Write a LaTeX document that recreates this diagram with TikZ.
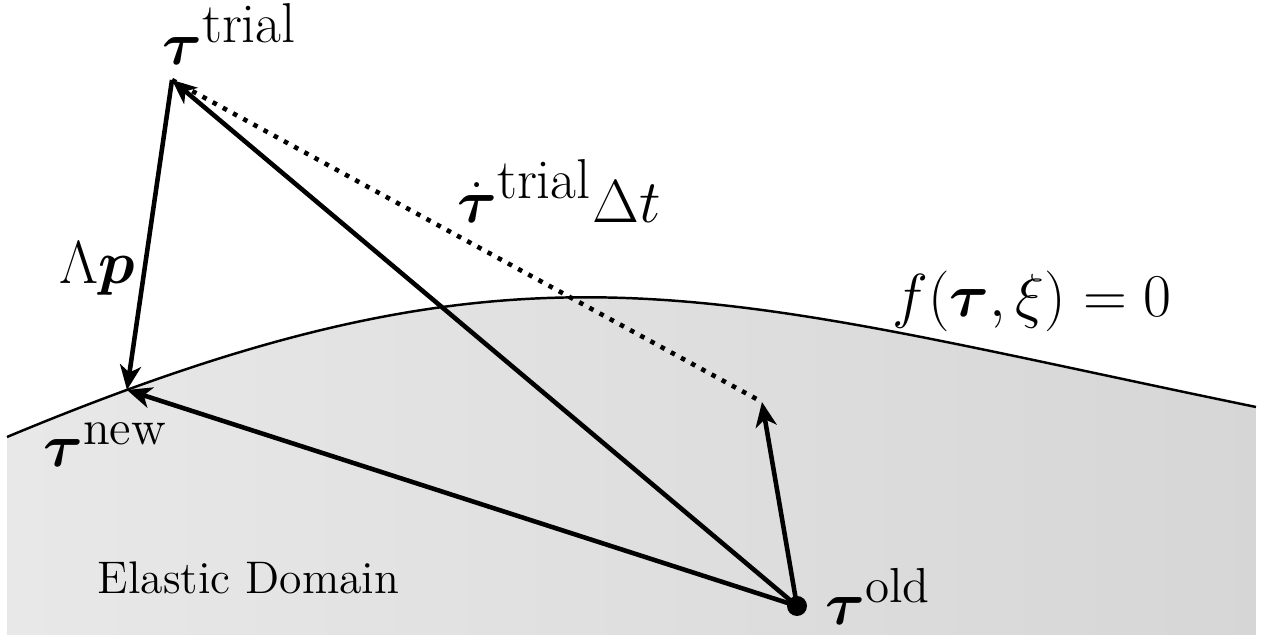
\documentclass[tikz,border=0pt]{standalone}
\usepackage{amsmath}
\usepackage{amssymb}
\usetikzlibrary{arrows.meta}

\newcommand{\suptext}[2]{\text{\fontsize{#1}{#1}\selectfont #2}}

\begin{document}
\begin{tikzpicture}[>={Stealth[length=7pt, width=6pt, inset=2pt]}, line width=1.3pt,
            every node/.style={inner sep=0pt, font=\fontsize{18}{22}\selectfont}]
            \useasboundingbox (0,0) rectangle (12.66,6.39);

            % elastic domain and yield surface
            \shade[left color=black!9, right color=black!16] (0.07,0.04) -- (0.07,2.02) .. controls (5.3,4.2) and (7.06,3.45) .. (12.56,2.32) -- (12.56,0.04) -- cycle;
            \draw[line width=0.7pt] (0.07,2.02) .. controls (5.3,4.2) and (7.06,3.45) .. (12.56,2.32);

            \coordinate (trial) at (1.72,5.59);
            \coordinate (new) at (1.27,2.49);
            \coordinate (old) at (7.97,0.33);
            \coordinate (rate) at (7.62,2.37);

            \draw[->] (old) -- (trial);
            \draw[->] (trial) -- (new);
            \draw[->] (old) -- (new);
            \draw[->] (old) -- (rate);
            \draw[dotted] (trial) -- (rate);
            \fill (old) circle (0.1);

            \node[anchor=base west] (trialLabel) at (1.60,5.74) {$\boldsymbol{\tau}^{\suptext{16}{trial}}$};
            \node (plastic) at (0.97,3.70) {$\Lambda\boldsymbol{p}$};
            \node[anchor=base west] (rateLabel) at (4.55,4.16) {$\dot{\boldsymbol{\tau}}^{\suptext{16}{trial}}\Delta t$};
            \node[anchor=base west] (yield) at (8.90,3.22) {$f(\boldsymbol{\tau},\xi)=0$};
            \node[anchor=base west] (newLabel) at (0.41,1.72) {$\boldsymbol{\tau}^{\suptext{14}{new}}$};
            \node[anchor=base west] (oldLabel) at (8.23,0.14) {$\boldsymbol{\tau}^{\suptext{14}{old}}$};
            \node[font=\fontsize{13}{15}\selectfont] (domain) at (2.485,0.61) {Elastic Domain};
        \end{tikzpicture}
\end{document}
